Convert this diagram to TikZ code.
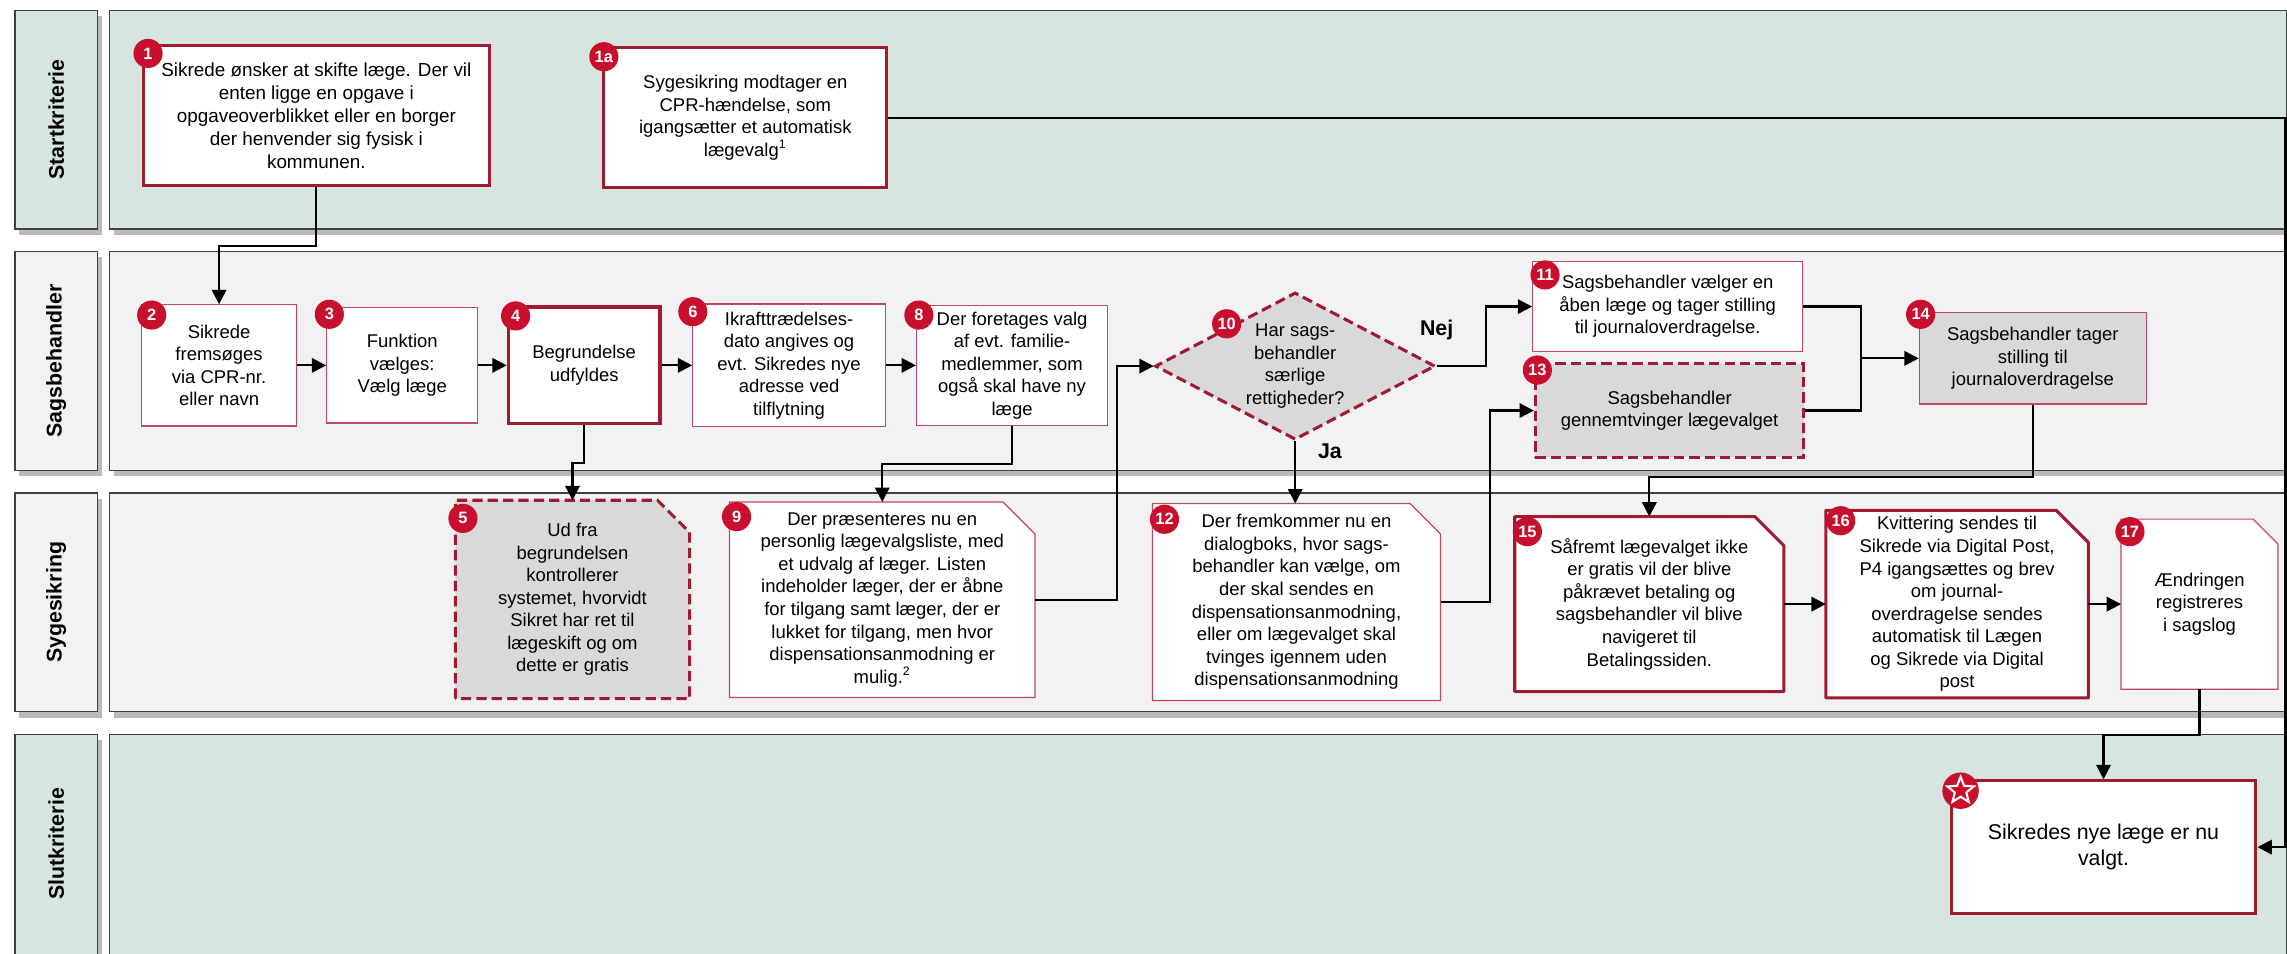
\documentclass[tikz,border=0pt]{standalone}
\usepackage{fontspec}
\setmainfont{Liberation Sans}
\usetikzlibrary{arrows.meta,shapes.geometric,shadows}
\newlength{\pxu}\setlength{\pxu}{0.025cm}
\definecolor{lanegreen}{HTML}{D6E5E0}
\definecolor{lanegray}{HTML}{F2F2F2}
\definecolor{laneline}{HTML}{404040}
\definecolor{boxgray}{HTML}{D9D9D9}
\definecolor{darkred}{HTML}{9E1B32}
\definecolor{thinred}{HTML}{C0485F}
\definecolor{badgered}{HTML}{C8102E}
\pgfdeclarelayer{back}
\pgfdeclarelayer{mid}
\pgfsetlayers{back,mid,main}
\begin{document}
\begin{tikzpicture}[x=0.025cm, y=-0.025cm, font=\fontsize{9}{11}\selectfont,
    lanebox/.style={draw=laneline, line width=0.6pt, drop shadow={shadow xshift=3\pxu, shadow yshift=-4\pxu, fill=black!45, opacity=.6}},
    lanelbl/.style={rotate=90, font=\bfseries\fontsize{10.4}{12}\selectfont},
    stepbox/.style={rectangle, fill=white, align=center, inner sep=1\pxu},
    thinbox/.style={stepbox, draw=thinred, line width=0.6pt},
    thickbox/.style={stepbox, draw=darkred, line width=1.5pt},
    dashbox/.style={stepbox, draw=darkred, line width=1.5pt, dash pattern=on 5pt off 2.5pt, fill=boxgray},
    snipnode/.style={rectangle, align=center, inner sep=1\pxu},
    thinsnip/.style={fill=white, draw=thinred, line width=0.6pt},
    thicksnip/.style={fill=white, draw=darkred, line width=1.5pt, line join=round},
    dashsnip/.style={fill=boxgray, draw=darkred, line width=1.5pt, dash pattern=on 5pt off 2.5pt},
    sz/.style 2 args={minimum width=#1\pxu, minimum height=#2\pxu},
    badge/.style={circle, fill=badgered, text=white, inner sep=0, minimum size=20\pxu, font=\bfseries\fontsize{8}{8}\selectfont},
    conn/.style={line width=1.1pt, -{Triangle[length=7pt,width=7pt]}},
    wire/.style={line width=1.1pt},
    choice/.style={font=\bfseries\fontsize{10.4}{12}\selectfont}]
  \useasboundingbox (0,0) rectangle (1568,653.4);
  \clip (0,0) rectangle (1568,653.4);

  % swimlanes
  \begin{pgfonlayer}{back}
  \fill[white] (0,0) rectangle (1568,653.4);
  \foreach \i/\y/\h/\name/\col in {1/7/150/Startkriterie/lanegreen, 2/172.5/150/Sagsbehandler/lanegray, 3/338/150/Sygesikring/lanegray, 4/503.5/170/Slutkriterie/lanegreen}{
    \draw[lanebox, fill=\col] (10.3,\y) rectangle (66.7,\y+\h);
    \draw[lanebox, fill=\col] (75,\y) rectangle (1567.7,\y+\h);
    \node[lanelbl] (lbl\i) at (38.5,\y+75) {\name};
  }
  \end{pgfonlayer}

  % steps
  \node[thickbox, sz={237}{96}, font=\fontsize{9.2}{11.2}\selectfont] (n1) at (216.9,79.4) {Sikrede ønsker at skifte læge. Der vil\\enten ligge en opgave i\\opgaveoverblikket eller en borger\\der henvender sig fysisk i\\kommunen.};
  \node[thickbox, sz={194}{96}] (n1a) at (511,80.7) {Sygesikring modtager en\\CPR-hændelse, som\\igangsætter et automatisk\\lægevalg\textsuperscript{1}};
  \node[thinbox, sz={106}{83}] (n2) at (150.2,250.5) {Sikrede\\fremsøges\\via CPR-nr.\\eller navn};
  \node[thinbox, sz={103.5}{79}] (n3) at (275.8,250.5) {Funktion\\vælges:\\Vælg læge};
  \node[thickbox, sz={104}{80}] (n4) at (400.5,250.5) {Begrundelse\\udfyldes};
  \node[thinbox, sz={132}{84}] (n6) at (541,250.5) {Ikrafttrædelses-\\dato angives og\\evt. Sikredes nye\\adresse ved\\tilflytning};
  \node[thinbox, sz={131}{82}] (n8) at (693.9,250.5) {Der foretages valg\\af evt. familie-\\medlemmer, som\\også skal have ny\\læge};
  \node[diamond, aspect=2, draw=darkred, line width=1.5pt, dash pattern=on 5pt off 2.5pt, fill=boxgray, inner sep=0, align=center, sz={192}{101}] (n10) at (888,251) {Har sags-\\behandler\\særlige\\rettigheder?};
  \node[thinbox, sz={185}{62}] (n11) at (1143.4,210.2) {Sagsbehandler vælger en\\åben læge og tager stilling\\til journaloverdragelse.};
  \node[dashbox, sz={184}{64}] (n13) at (1144.7,281.5) {Sagsbehandler\\gennemtvinger lægevalget};
  \node[thinbox, fill=boxgray, sz={155.5}{62.6}] (n14) at (1393.7,245.7) {Sagsbehandler tager\\stilling til\\journaloverdragelse};
  \node[snipnode, sz={160}{135.5}] (n5) at (392.5,411) {Ud fra\\begrundelsen\\kontrollerer\\systemet, hvorvidt\\Sikret har ret til\\lægeskift og om\\dette er gratis};
  \node[snipnode, sz={209}{133.6}] (n9) at (604.9,411.2) {Der præsenteres nu en\\personlig lægevalgsliste, med\\et udvalg af læger. Listen\\indeholder læger, der er åbne\\for tilgang samt læger, der er\\lukket for tilgang, men hvor\\dispensationsanmodning er\\mulig.\textsuperscript{2}};
  \node[snipnode, sz={197}{134.5}] (n12) at (888.9,412.7) {Der fremkommer nu en\\dialogboks, hvor sags-\\behandler kan vælge, om\\der skal sendes en\\dispensationsanmodning,\\eller om lægevalget skal\\tvinges igennem uden\\dispensationsanmodning};
  \node[snipnode, sz={184}{119.5}] (n15) at (1130.8,414.2) {Såfremt lægevalget ikke\\er gratis vil der blive\\påkrævet betaling og\\sagsbehandler vil blive\\navigeret til\\Betalingssiden.};
  \node[snipnode, sz={179.4}{128}] (n16) at (1341.8,414.2) {Kvittering sendes til\\Sikrede via Digital Post,\\P4 igangsættes og brev\\om journal-\\overdragelse sendes\\automatisk til Lægen\\og Sikrede via Digital\\post};
  \node[snipnode, sz={107}{116}] (n17) at (1508,414.2) {Ændringen\\registreres\\i sagslog};
  \node[thickbox, sz={209}{91}, font=\fontsize{10.4}{13}\selectfont] (nstar) at (1442.2,580.8) {Sikredes nye læge er nu\\valgt.};

  % snipped corners
  \begin{pgfonlayer}{mid}
  \foreach \n/\c/\s in {n5/22/dashsnip, n9/22/thinsnip, n12/21/thinsnip, n15/20/thicksnip, n16/22/thicksnip, n17/17/thinsnip}
    \draw[\s] (\n.south west) -- (\n.north west) -- ([xshift=-\c\pxu]\n.north east) -- ([yshift=-\c\pxu]\n.north east) -- (\n.south east) -- cycle;
  \end{pgfonlayer}

  % connectors
  \coordinate (redge) at (1567,0);
  \coordinate (jn) at (1275.7,245.7);
  \draw[conn] (n1.south) -- ++(0,40.2) -| (n2.north);
  \draw[conn] (n1a.east) -| (redge |- nstar.east) -- (nstar.east);
  \foreach \a/\b in {n2/n3,n3/n4,n4/n6,n6/n8,n15/n16,n16/n17}
    \draw[conn] (\a.east) -- (\b.west);
  \draw[conn] (n4.south) -- ++(0,25.8) -| (n5.north);
  \draw[conn] (n8.south) -- ++(0,26.3) -| (n9.north);
  \draw[conn] (n9.east) -- ++(56.3,0) |- (n10.west);
  \draw[conn] (n10.east) -- ++(34,0) |- (n11.west);
  \draw[conn] (n10.south) -- (n10.south |- n12.north);
  \draw[conn] (n12.east) -- ++(34,0) |- (n13.west);
  \draw[wire] (n11.east) -| (jn);
  \draw[wire] (n13.east) -| (jn);
  \draw[conn] (jn) -- (n14.west);
  \draw[conn] (n14.south) -- ++(0,49.8) -| (n15.north);
  \draw[conn] (n17.south) -- ++(0,31.4) -| (nstar.north);
  \node[choice] (nej) at (985,226) {Nej};
  \node[choice] (ja) at (911.8,309.7) {Ja};

  % badges
  \foreach \name/\x/\y in {1/101.5/36.6, 1a/414/38.9, 2/104/216, 3/225.8/215.5, 4/353.5/216.6, 6/475/213.7, 8/630/216, 10/841/222, 11/1059.3/188.5, 13/1054/253.7, 14/1316.8/215.5, 5/317.4/355.4, 9/505/354.2, 12/798.4/356, 15/1047.2/364.5, 16/1262/357, 17/1460.3/364.5}
    \node[badge] (b\name) at (\x,\y) {\name};
  \node[badge, minimum size=25\pxu] (bstar) at (1344.2,542.1) {};
  \node[star, star points=5, star point ratio=2.3, draw=white, line width=1pt, minimum size=19\pxu, inner sep=0] (starmark) at (bstar) {};
\end{tikzpicture}
\end{document}
